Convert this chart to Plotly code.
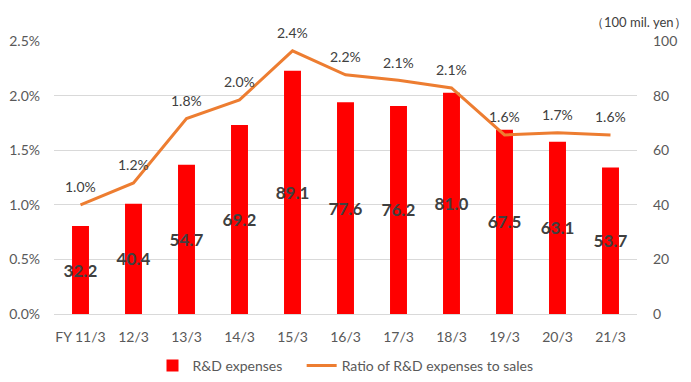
import plotly.graph_objects as go

categories = ["FY 11/3", "12/3", "13/3", "14/3", "15/3", "16/3", "17/3", "18/3", "19/3", "20/3", "21/3"]
rd_expenses = [32.2, 40.4, 54.7, 69.2, 89.1, 77.6, 76.2, 81.0, 67.5, 63.1, 53.7]
rd_ratio = [0.0100, 0.0120, 0.0179, 0.0196, 0.0241, 0.0219, 0.0214, 0.0207, 0.0164, 0.0166, 0.0164]
ratio_labels = ["1.0%", "1.2%", "1.8%", "2.0%", "2.4%", "2.2%", "2.1%", "2.1%", "1.6%", "1.7%", "1.6%"]

FONT = "Lato"
GREY = "#595959"

fig = go.Figure()
fig.add_trace(go.Bar(
    x=categories, y=rd_expenses, name="R&D expenses\u00a0\u00a0\u00a0\u00a0",
    marker=dict(color="#FF0000", line=dict(width=0)),
    text=[f"{v:.1f}" for v in rd_expenses],
    textposition="inside", insidetextanchor="middle",
    constraintext="none", textangle=0,
    textfont=dict(family=FONT, size=17, color="#404040", weight="bold"),
    yaxis="y", width=0.32, cliponaxis=False,
))
fig.add_trace(go.Scatter(
    x=categories, y=rd_ratio, name="Ratio of R&D expenses to sales",
    mode="lines", line=dict(color="#ED7D31", width=3),
    yaxis="y2", cliponaxis=False,
))

annotations = [
    dict(x=c, y=v, xref="x", yref="y2", text=t, showarrow=False, yshift=18,
         xanchor="center", yanchor="middle",
         font=dict(family=FONT, size=14, color="#404040"))
    for c, v, t in zip(categories, rd_ratio, ratio_labels)
]
annotations.append(dict(text="（100 mil. yen）", xref="paper", yref="paper", x=1.089, y=1.07,
                        xanchor="right", yanchor="middle", showarrow=False,
                        font=dict(family=FONT, size=13, color="#404040")))

# the page body has an 8px margin, so the figure is laid out 8px smaller
fig.update_layout(
    width=683, height=374,
    margin=dict(l=46, r=54, t=33, b=68, autoexpand=False),
    paper_bgcolor="white", plot_bgcolor="white",
    font=dict(family=FONT, size=14, color=GREY),
    showlegend=True,
    legend=dict(orientation="h", x=0.5, xanchor="center", y=-0.19, yanchor="middle",
                font=dict(family=FONT, size=14, color=GREY), traceorder="normal",
                itemwidth=30),
    xaxis=dict(showgrid=False, showline=True, linecolor="#D9D9D9", ticks="",
               ticklabelstandoff=10, automargin=False,
               tickfont=dict(family=FONT, size=14, color=GREY)),
    yaxis=dict(side="right", range=[0, 100], dtick=20, showgrid=True, gridcolor="#D9D9D9",
               zeroline=False, ticks="", ticklabelstandoff=15, automargin=False,
               tickfont=dict(family=FONT, size=14, color=GREY)),
    yaxis2=dict(side="left", overlaying="y", range=[0, 0.025], dtick=0.005, tickformat=".1%",
                showgrid=False, zeroline=False, ticks="", ticklabelstandoff=13, automargin=False,
                tickfont=dict(family=FONT, size=14, color=GREY)),
    annotations=annotations,
)

fig.write_html("out.html")
